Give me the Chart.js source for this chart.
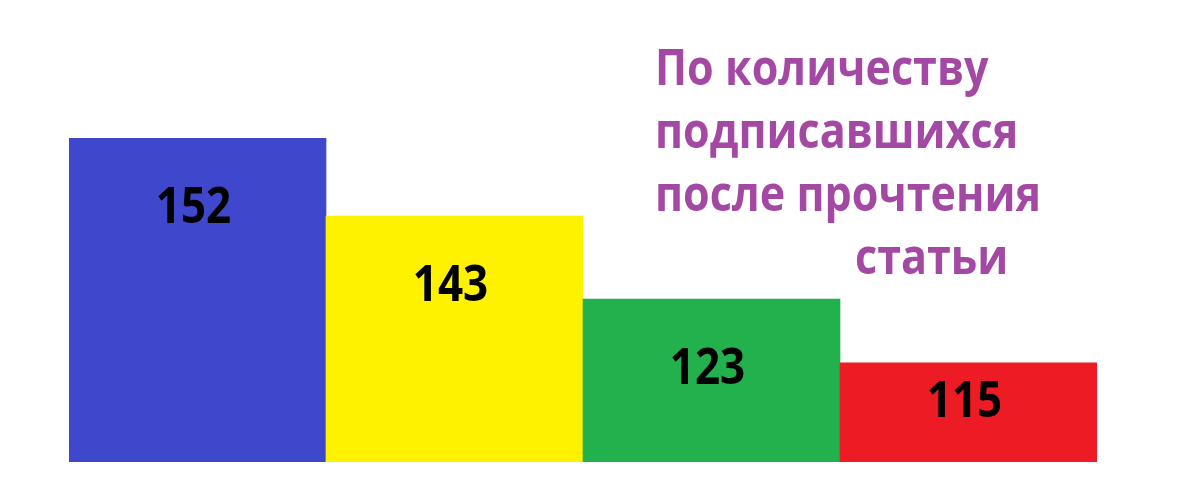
<!DOCTYPE html>
<html>
<head>
<meta charset="utf-8">
<script src="https://cdn.jsdelivr.net/npm/chart.js@4.4.1/dist/chart.umd.min.js"></script>
<style>
  html, body { margin: 0; padding: 0; background: #ffffff; }
  #wrap { width: 1200px; height: 487px; position: relative; }
</style>
</head>
<body>
<div id="wrap"><canvas id="chart"></canvas></div>
<script>
// categories (one bar each, no axis shown)
const categories = ['A', 'B', 'C', 'D'];
// numbers printed on the bars
const subscribers = [152, 143, 123, 115];
// drawn bar heights (tallest bar = 100)
const barHeights = [100, 75.9, 50.3, 30.6];
const barColors = ['#3f48cc', '#fff200', '#22b14c', '#ed1c24'];
const titleLines = ['По количеству', 'подписавшихся', 'после прочтения', 'статьи'];

const titleFont = 'bold 51px "Open Sans", "Noto Sans", sans-serif';
const labelFont = 'bold 50px "Open Sans", "Noto Sans", sans-serif';

// draw text squeezed horizontally (the original uses a narrow font)
function narrowText(ctx, text, x, y, sx) {
    ctx.save();
    ctx.translate(x, y);
    ctx.scale(sx, 1);
    ctx.fillText(text, 0, 0);
    ctx.restore();
}

// numbers inside the bars
const barLabels = {
    id: 'barLabels',
    afterDatasetsDraw(chart) {
        const ctx = chart.ctx;
        const meta = chart.getDatasetMeta(0);
        ctx.save();
        ctx.font = labelFont;
        ctx.fillStyle = '#000000';
        ctx.textAlign = 'center';
        ctx.textBaseline = 'alphabetic';
        meta.data.forEach((bar, i) => {
            const h = bar.base - bar.y;
            const y = bar.y + Math.min(85, h * 0.55);
            narrowText(ctx, String(subscribers[i]), bar.x - 4, y, 0.88);
        });
        ctx.restore();
    }
};

// purple caption top right
const caption = {
    id: 'caption',
    afterDraw(chart) {
        const ctx = chart.ctx;
        ctx.save();
        ctx.font = titleFont;
        ctx.fillStyle = '#a349a4';
        ctx.textAlign = 'left';
        ctx.textBaseline = 'alphabetic';
        titleLines.forEach((line, i) => {
            const x = i === titleLines.length - 1 ? 855 : 655;
            narrowText(ctx, line, x, 85 + i * 63, 0.845);
        });
        ctx.restore();
    }
};

new Chart(document.getElementById('chart').getContext('2d'), {
    type: 'bar',
    data: {
        labels: categories,
        datasets: [{
            data: barHeights,
            backgroundColor: barColors,
            borderWidth: 0,
            categoryPercentage: 1,
            barPercentage: 1
        }]
    },
    options: {
        responsive: true,
        maintainAspectRatio: false,
        animation: false,
        layout: {
            padding: { left: 69, right: 103, top: 138, bottom: 25 }
        },
        plugins: {
            legend: { display: false },
            title: { display: false },
            tooltip: { enabled: false }
        },
        scales: {
            x: { display: false },
            y: { display: false, min: 0, max: 100 }
        }
    },
    plugins: [barLabels, caption]
});
</script>
</body>
</html>
